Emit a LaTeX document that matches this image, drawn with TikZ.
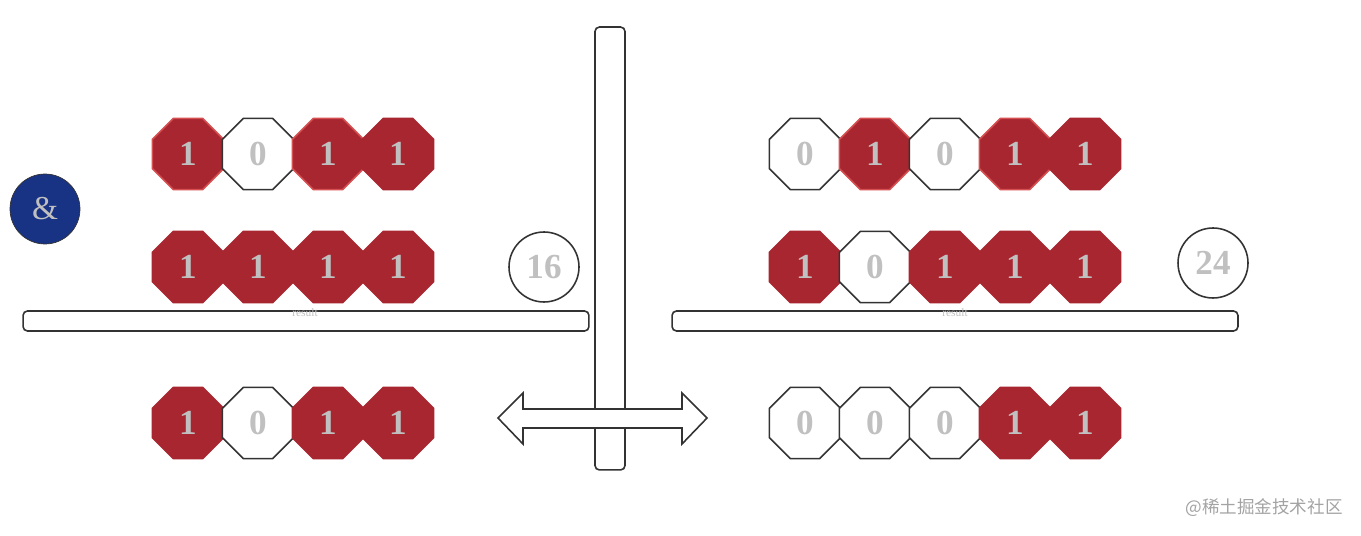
\documentclass[tikz,border=0pt]{standalone}
\usepackage{fontspec}
\usetikzlibrary{shapes.geometric, positioning}
\setmainfont{Liberation Serif}
\newfontfamily\cjkfont{Noto Sans CJK SC}
\definecolor{bitred}{RGB}{168, 38, 48}
\definecolor{bitredlit}{RGB}{214, 80, 82}
\definecolor{bitgray}{RGB}{192, 192, 192}
\definecolor{andblue}{RGB}{24, 50, 132}
\definecolor{edgegray}{RGB}{51, 51, 51}

\begin{document}
\begin{tikzpicture}[x=0.02cm, y=-0.02cm]
    \tikzstyle{bit}=[regular polygon, regular polygon sides=8, minimum size=1.54cm, inner sep=0pt, font=\fontsize{20}{24}\selectfont\bfseries, text=bitgray]
    \tikzstyle{bit1}=[bit, fill=bitred, draw=bitred, line width=0.9pt]
    \tikzstyle{bit0}=[bit, fill=white, draw=edgegray, line width=0.9pt]
    \tikzstyle{lit}=[draw=bitredlit]
    \tikzstyle{bar}=[rectangle, draw=edgegray, fill=white, line width=0.9pt, rounded corners=2.5pt, inner sep=0pt]
    \tikzstyle{total}=[circle, draw=edgegray, line width=0.9pt, minimum size=1.4cm, inner sep=0pt, font=\fontsize{20}{24}\selectfont\bfseries, text=bitgray]
    \tikzstyle{tag}=[font=\fontsize{6.5}{7}\selectfont, text=bitgray, inner sep=0pt]

    \useasboundingbox (0,0) rectangle (1361,536);

    % Operator
    \node[circle, fill=andblue, draw=edgegray, line width=0.4pt, minimum size=1.4cm, inner sep=0pt, text=bitgray, font=\fontsize{19}{21}\selectfont] (op) at (45, 209) {\&};

    % Divider
    \node[bar, minimum width=0.6cm, minimum height=8.86cm] (wall) at (610, 248.5) {};

    % Left operand a
    \foreach \x/\name/\b/\s in {188/la1/1/lit, 258/la2/0/{}, 328/la3/1/lit, 398/la4/1/{}} {
        \node[bit\b, \s] (\name) at (\x, 154) {\b};
    }
    % Left operand b
    \foreach \x/\name/\b in {188/lb1/1, 258/lb2/1, 328/lb3/1, 398/lb4/1} {
        \node[bit\b] (\name) at (\x, 267) {\b};
    }
    \node[total] (lsum) at (544, 267) {16};

    % Left result line
    \node[bar, minimum width=11.32cm, minimum height=0.4cm] (lline) at (306, 321) {};
    \node[tag] (ltag) at (305, 313) {result};

    % Left result
    \foreach \x/\name/\b in {188/lr1/1, 258/lr2/0, 328/lr3/1, 398/lr4/1} {
        \node[bit\b] (\name) at (\x, 423) {\b};
    }

    % Right operand a
    \foreach \x/\name/\b/\s in {805/ra1/0/{}, 875/ra2/1/lit, 945/ra3/0/{}, 1015/ra4/1/lit, 1085/ra5/1/{}} {
        \node[bit\b, \s] (\name) at (\x, 154) {\b};
    }
    % Right operand b
    \foreach \x/\name/\b in {805/rb1/1, 875/rb2/0, 945/rb3/1, 1015/rb4/1, 1085/rb5/1} {
        \node[bit\b] (\name) at (\x, 267) {\b};
    }
    \node[total] (rsum) at (1213, 263) {24};

    % Right result line
    \node[bar, minimum width=11.32cm, minimum height=0.4cm] (rline) at (955, 321) {};
    \node[tag] (rtag) at (955, 313) {result};

    % Right result
    \foreach \x/\name/\b in {805/rr1/0, 875/rr2/0, 945/rr3/0, 1015/rr4/1, 1085/rr5/1} {
        \node[bit\b] (\name) at (\x, 423) {\b};
    }

    % Two-way arrow across the divider
    \draw[draw=edgegray, fill=white, line width=0.9pt, line join=miter]
        (498, 418) -- (523, 393) -- (523, 409) -- (682, 409) -- (682, 393)
        -- (707, 418) -- (682, 444) -- (682, 428) -- (523, 428) -- (523, 444) -- cycle;

    % Watermark
    \node[anchor=east, text=bitgray!85!black, font=\cjkfont\fontsize{10}{12}\selectfont, inner sep=0pt] (mark) at (1343, 508) {@稀土掘金技术社区};
\end{tikzpicture}
\end{document}
